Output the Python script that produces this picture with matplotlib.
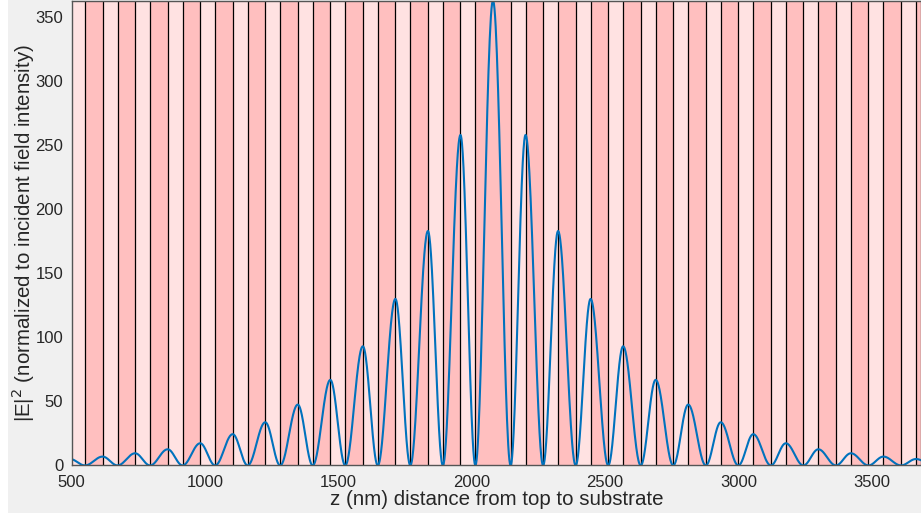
import numpy as np
import matplotlib.pyplot as plt
from matplotlib.patches import Rectangle

plt.rcParams['font.family'] = ['Liberation Sans', 'DejaVu Sans']

# layer stack (nm): mirror pairs either side of a half-wave cavity
d_dark = 66        # thicker (low index) layer
d_light = 56       # thinner (high index) layer
d_cavity = 132     # half-wave spacer, same material as dark layers
n_pairs = 13
z_center = 2080

# peak |E|^2 of each lobe, from the cavity centre outward (symmetric)
peaks = [363, 258, 183, 130, 93, 66.8, 47.5, 33.7, 24.4, 17.3, 12.6, 9.5, 6.9, 5.0]

x_ticks = [500, 1000, 1500, 2000, 2500, 3000, 3500]
y_ticks = [0, 50, 100, 150, 200, 250, 300, 350]
x_range = (500, 3685)

c_dark = '#ffbfbf'
c_light = '#ffe2e2'
c_line = '#0072bd'
c_text = '#262626'

period = d_dark + d_light
cav_l = z_center - d_cavity / 2
cav_r = z_center + d_cavity / 2

# layers as (start, thickness, colour), left to right
layers = []
z = cav_l - n_pairs * period
for i in range(n_pairs):
    layers.append((z, d_dark, c_dark)); z += d_dark
    layers.append((z, d_light, c_light)); z += d_light
layers.append((z, d_cavity, c_dark)); z += d_cavity
for i in range(n_pairs):
    layers.append((z, d_light, c_light)); z += d_light
    layers.append((z, d_dark, c_dark)); z += d_dark

# field: each half lobe is a quarter wave inside one layer, peak at an interface
segs = []  # (z0, z1, z_peak, peak, d)
for k in range(n_pairs, 0, -1):
    a = cav_l - k * period
    segs.append((a, a + d_dark, a + d_dark, peaks[k], d_dark))
    segs.append((a + d_dark, a + period, a + d_dark, peaks[k], d_light))
segs.append((cav_l, cav_r, z_center, peaks[0], d_cavity / 2))
for k in range(1, n_pairs + 1):
    b = cav_r + (k - 1) * period
    segs.append((b, b + d_light, b + d_light, peaks[k], d_light))
    segs.append((b + d_light, b + period, b + d_light, peaks[k], d_dark))

zs, es = [], []
for z0, z1, zp, p, d in segs:
    zz = np.linspace(z0, z1, 60)
    zs.append(zz)
    es.append(p * np.cos(np.pi / 2 * (zz - zp) / d) ** 2)
zs = np.concatenate(zs)
es = np.concatenate(es)

fig = plt.figure(figsize=(9.21, 5.16), dpi=100, facecolor='white')
# grey figure area, with a thin white margin left and bottom
fig.add_artist(Rectangle((8 / 921, 3 / 516), 1, 1, transform=fig.transFigure,
                         facecolor='#f0f0f0', edgecolor='none', zorder=-5))
ax = fig.add_axes([0.0778, 0.098, 0.9222, 0.901])
ax.set_zorder(2)

for start, w, col in layers:
    ax.axvspan(start, start + w, color=col, lw=0, zorder=1)
edges = [l[0] for l in layers] + [layers[-1][0] + layers[-1][1]]
ax.vlines(edges, 0, 1, transform=ax.get_xaxis_transform(), colors='k',
          lw=0.9, zorder=2)

ax.plot(zs, es, color=c_line, lw=1.5, zorder=3)

ax.set_xlim(*x_range)
ax.set_ylim(0, peaks[0])
ax.set_xticks(x_ticks)
ax.set_yticks(y_ticks)
ax.tick_params(length=0, labelsize=12, colors=c_text)
ax.tick_params(axis='x', pad=7)
ax.tick_params(axis='y', pad=6)
for s in ax.spines.values():
    s.set_color('#555555')
    s.set_linewidth(1.0)
    s.set_zorder(4)

ax.set_xlabel('z (nm) distance from top to substrate', fontsize=14.8,
              color=c_text, labelpad=0)
ax.set_ylabel('|E|$^2$ (normalized to incident field intensity)', fontsize=14.8,
              color=c_text, labelpad=-1)

fig.savefig('out.png', dpi=100, facecolor=fig.get_facecolor())
